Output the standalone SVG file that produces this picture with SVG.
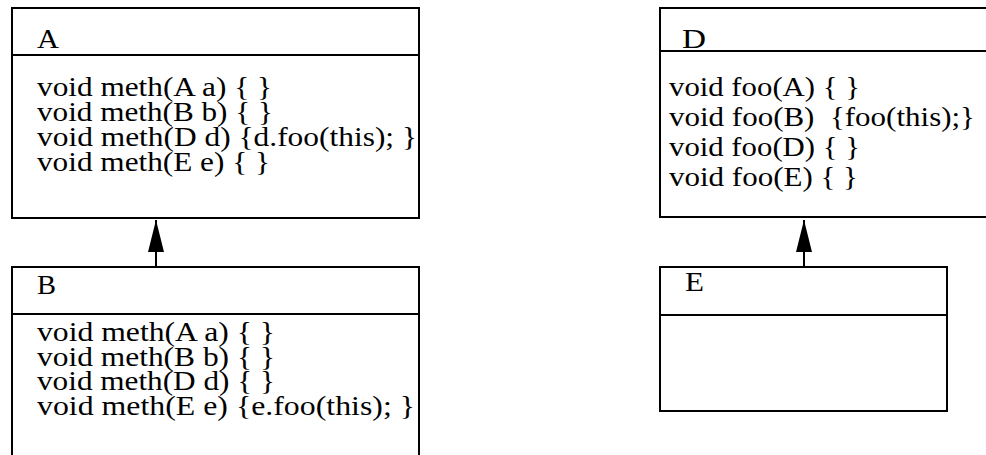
<svg xmlns="http://www.w3.org/2000/svg" width="986" height="455" viewBox="0 0 986 455">
<style>
.box{fill:#fff;stroke:#000;stroke-width:2}
.div{stroke:#000;stroke-width:2}
.t{font-family:"Liberation Serif","Times New Roman",serif;font-size:27px;fill:#000}
.edge{stroke:#000;stroke-width:2;fill:none}
</style>
<defs>
<marker id="tri" markerUnits="userSpaceOnUse" viewBox="0 0 32 16" refX="32" refY="8" markerWidth="32" markerHeight="16" orient="auto">
<path d="M0,0 L32,8 L0,16 z" fill="#000"/>
</marker>
</defs>
<rect width="986" height="455" fill="#fff"/>
<g id="A">
<rect class="box" x="12" y="8" width="407" height="210"/>
<line class="div" x1="12" y1="55" x2="419" y2="55"/>
<text class="t" x="37" y="48" textLength="22" lengthAdjust="spacingAndGlyphs">A</text>
<text class="t" x="37" y="96" textLength="235" lengthAdjust="spacingAndGlyphs">void meth(A a) { }</text>
<text class="t" x="37" y="121" textLength="236" lengthAdjust="spacingAndGlyphs">void meth(B b) { }</text>
<text class="t" x="37" y="146" textLength="380" lengthAdjust="spacingAndGlyphs">void meth(D d) {d.foo(this); }</text>
<text class="t" x="37" y="171" textLength="233" lengthAdjust="spacingAndGlyphs">void meth(E e) { }</text>
</g>
<g id="B">
<rect class="box" x="12" y="267" width="407" height="200"/>
<line class="div" x1="12" y1="314" x2="419" y2="314"/>
<text class="t" x="37" y="294" textLength="19" lengthAdjust="spacingAndGlyphs">B</text>
<text class="t" x="37" y="341" textLength="238" lengthAdjust="spacingAndGlyphs">void meth(A a) { }</text>
<text class="t" x="37" y="366" textLength="238" lengthAdjust="spacingAndGlyphs">void meth(B b) { }</text>
<text class="t" x="37" y="390" textLength="238" lengthAdjust="spacingAndGlyphs">void meth(D d) { }</text>
<text class="t" x="37" y="415" textLength="378" lengthAdjust="spacingAndGlyphs">void meth(E e) {e.foo(this); }</text>
</g>
<g id="D">
<rect class="box" x="660" y="8" width="340" height="209"/>
<line class="div" x1="660" y1="51" x2="1000" y2="51"/>
<text class="t" x="682" y="48" textLength="24" lengthAdjust="spacingAndGlyphs">D</text>
<text class="t" x="669" y="96" textLength="191" lengthAdjust="spacingAndGlyphs">void foo(A) { }</text>
<text class="t" x="669" y="126" textLength="306" lengthAdjust="spacingAndGlyphs" xml:space="preserve">void foo(B)  {foo(this);}</text>
<text class="t" x="669" y="156" textLength="191" lengthAdjust="spacingAndGlyphs">void foo(D) { }</text>
<text class="t" x="669" y="186" textLength="189" lengthAdjust="spacingAndGlyphs">void foo(E) { }</text>
</g>
<g id="E">
<rect class="box" x="660" y="267" width="287" height="144"/>
<line class="div" x1="660" y1="315" x2="947" y2="315"/>
<text class="t" x="685" y="291" textLength="19" lengthAdjust="spacingAndGlyphs">E</text>
</g>
<g id="connectors">
<line class="edge" x1="156" y1="267" x2="156" y2="220" marker-end="url(#tri)"/>
<line class="edge" x1="804" y1="267" x2="804" y2="220" marker-end="url(#tri)"/>
</g>
</svg>
